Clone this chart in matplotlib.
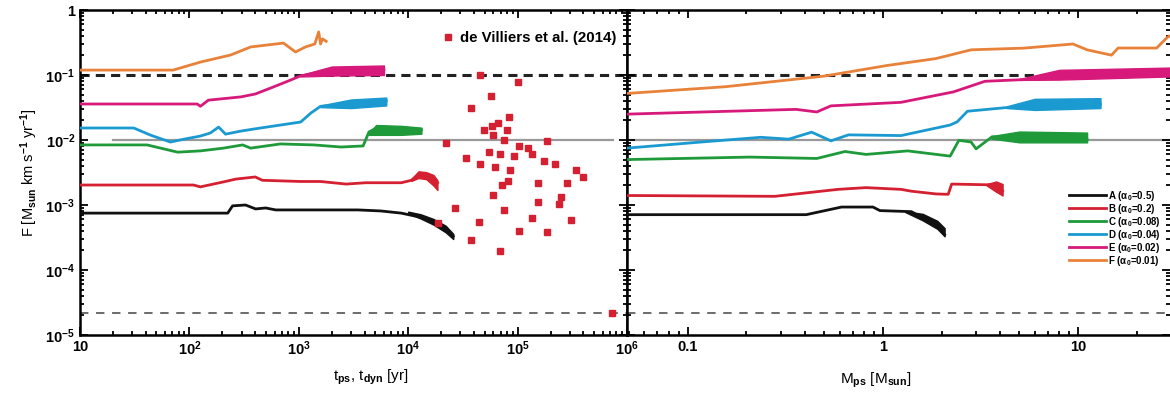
import matplotlib
matplotlib.use('Agg')
import matplotlib.pyplot as plt
from matplotlib.ticker import FixedLocator, FixedFormatter, LogLocator, NullFormatter

plt.rcParams['font.family'] = ['Liberation Sans', 'DejaVu Sans']
plt.rcParams['font.weight'] = 'bold'
plt.rcParams['mathtext.fontset'] = 'custom'
plt.rcParams['mathtext.rm'] = 'Liberation Sans:bold'
plt.rcParams['mathtext.it'] = 'Liberation Sans:bold:italic'
plt.rcParams['mathtext.bf'] = 'Liberation Sans:bold'
plt.rcParams['mathtext.sf'] = 'Liberation Sans:bold'
plt.rcParams['mathtext.default'] = 'rm'

# ---------------- data: left panel (time [yr]) ----------------
tA = [10, 224, 248, 326, 403, 498, 615, 3470, 5600, 8650, 11350, 14600, 18000, 22300, 25800]
FA = [7.5e-4, 7.5e-4, 9.7e-4, 1.0e-3, 8.7e-4, 9.0e-4, 8.4e-4, 8.4e-4, 8.1e-4, 7.5e-4, 6.8e-4, 6.1e-4, 5.1e-4, 4.1e-4, 3.3e-4]
tB = [10, 109, 126, 213, 264, 400, 465, 1040, 1580, 2700, 4100, 8650, 10700, 12400, 14600, 17000, 18500]
FB = [2.03e-3, 2.03e-3, 1.9e-3, 2.3e-3, 2.5e-3, 2.7e-3, 2.4e-3, 2.3e-3, 2.3e-3, 2.1e-3, 2.2e-3, 2.2e-3, 2.4e-3, 3.0e-3, 2.9e-3, 2.6e-3, 2.2e-3]
tC = [10, 41, 78, 126, 205, 307, 363, 680, 1370, 2430, 3870, 4380, 5100, 8650, 13200]
FC = [8.4e-3, 8.4e-3, 6.5e-3, 6.8e-3, 7.5e-3, 8.4e-3, 7.5e-3, 8.7e-3, 8.4e-3, 7.8e-3, 8.1e-3, 0.0133, 0.0152, 0.0143, 0.0143]
tD = [10, 31, 44, 67, 92, 126, 155, 185, 214, 294, 447, 1040, 1290, 1580, 3000, 6300]
FD = [0.0153, 0.0153, 0.0119, 0.0093, 0.0104, 0.0115, 0.0128, 0.0158, 0.0123, 0.0137, 0.0153, 0.0189, 0.026, 0.033, 0.036, 0.040]
tE = [10, 118, 126, 149, 294, 400, 553, 760, 1040, 1580, 3000, 6000]
FE = [0.0358, 0.0358, 0.033, 0.041, 0.046, 0.051, 0.063, 0.078, 0.097, 0.111, 0.12, 0.12]
tF = [10, 71, 126, 238, 363, 724, 933, 1150, 1400, 1520, 1580, 1650, 1780]
FF = [0.119, 0.119, 0.158, 0.203, 0.27, 0.31, 0.226, 0.27, 0.30, 0.46, 0.30, 0.36, 0.33]

# noisy envelopes (x, low, high), left panel
bA_t = [10000, 13000, 17000, 22000, 25800]
bA_lo = [7.6e-4, 6.2e-4, 5.0e-4, 3.8e-4, 3.0e-4]
bA_hi = [7.9e-4, 7.2e-4, 6.1e-4, 4.8e-4, 3.6e-4]
bB_t = [10700, 12400, 14600, 17000, 18500]
bB_lo = [2.35e-3, 2.6e-3, 2.5e-3, 2.0e-3, 1.7e-3]
bB_hi = [2.45e-3, 3.3e-3, 3.2e-3, 2.9e-3, 2.4e-3]
bC_t = [4380, 5100, 8650, 13200]
bC_lo = [1.2e-2, 1.2e-2, 1.2e-2, 1.25e-2]
bC_hi = [1.3e-2, 1.7e-2, 1.65e-2, 1.55e-2]
bD_t = [1580, 3000, 6300]
bD_lo = [0.032, 0.031, 0.034]
bD_hi = [0.034, 0.042, 0.045]
bE_t = [1040, 2000, 6000]
bE_lo = [0.095, 0.098, 0.10]
bE_hi = [0.10, 0.135, 0.14]

# de Villiers et al. (2014) points
dv_t = [45100, 101000, 57700, 37300, 84000, 65600, 58600, 49500, 79300, 59300, 22300, 74400,
        186000, 103000, 124000, 134000, 54500, 68400, 33600, 93300, 45100, 174000, 220000,
        61900, 84500, 340000, 397000, 82200, 71800, 155000, 280000, 59300, 248000, 238000,
        26800, 155000, 74400, 134000, 305000, 44800, 18600, 103000, 186000, 37300, 68400, 728000]
dv_F = [0.100, 0.0789, 0.0475, 0.0308, 0.0223, 0.01845, 0.0164, 0.01426, 0.0141, 0.01194, 0.00908, 0.00989,
        0.00976, 0.00817, 0.00753, 0.0061, 0.00654, 0.00603, 0.00535, 0.00561, 0.00427, 0.00475, 0.00427,
        0.00384, 0.00345, 0.00345, 0.00267, 0.00237, 0.00201, 0.00216, 0.00216, 0.00143, 0.00134, 0.001025,
        0.00089, 0.001124, 0.000828, 0.00063, 0.000582, 0.000553, 0.000523, 0.000402, 0.000388, 0.000286, 0.000194, 2.2e-5]

# ---------------- data: right panel (protostellar mass [Msun]) ----------------
mA = [0.049, 0.405, 0.614, 0.89, 0.966, 1.4, 1.65, 1.95, 2.07]
GA = [7.1e-4, 7.1e-4, 9.3e-4, 9.3e-4, 8.2e-4, 7.9e-4, 6.0e-4, 4.4e-4, 3.5e-4]
mB = [0.049, 0.28, 0.589, 0.82, 1.24, 1.4, 1.87, 2.16, 2.25, 3.62, 4.1]
GB = [1.4e-3, 1.36e-3, 1.74e-3, 1.85e-3, 1.74e-3, 1.63e-3, 1.48e-3, 1.46e-3, 2.1e-3, 2.04e-3, 1.63e-3]
mC = [0.049, 0.209, 0.459, 0.64, 0.82, 1.34, 2.21, 2.45, 2.83, 3.0, 3.62, 11.1]
GC = [5.0e-3, 5.46e-3, 5.2e-3, 6.65e-3, 6.0e-3, 6.8e-3, 5.65e-3, 9.9e-3, 9.3e-3, 7.3e-3, 1.12e-2, 1.01e-2]
mD = [0.049, 0.117, 0.237, 0.33, 0.432, 0.542, 0.667, 1.24, 2.21, 2.4, 2.71, 4.27, 13.0]
GD = [7.5e-3, 9.3e-3, 0.011, 0.0103, 0.0132, 0.0097, 0.012, 0.0117, 0.017, 0.019, 0.0277, 0.0315, 0.0355]
mE = [0.049, 0.359, 0.459, 0.542, 1.24, 2.3, 3.33, 5.26, 29.5]
GE = [0.025, 0.0296, 0.027, 0.0335, 0.038, 0.055, 0.080, 0.085, 0.109]
mF = [0.049, 0.156, 0.499, 1.05, 1.87, 2.83, 5.26, 9.4, 11.1, 14.8, 16.0, 25.2, 28.5, 29.5]
GF = [0.052, 0.066, 0.096, 0.14, 0.179, 0.244, 0.259, 0.30, 0.244, 0.202, 0.26, 0.26, 0.377, 0.40]

rA_m = [1.3, 1.6, 1.9, 2.07]
rA_lo = [7.8e-4, 5.8e-4, 4.3e-4, 3.3e-4]
rA_hi = [8.0e-4, 7.3e-4, 5.7e-4, 4.4e-4]
rB_m = [3.4, 3.8, 4.1]
rB_lo = [2.0e-3, 1.6e-3, 1.4e-3]
rB_hi = [2.1e-3, 2.3e-3, 2.1e-3]
rC_m = [3.6, 5.0, 11.1]
rC_lo = [1.05e-2, 9.2e-3, 9.2e-3]
rC_hi = [1.15e-2, 1.35e-2, 1.3e-2]
rD_m = [4.3, 6.0, 13.0]
rD_lo = [0.031, 0.029, 0.031]
rD_hi = [0.033, 0.043, 0.044]
rE_m = [5.0, 8.0, 29.5]
rE_lo = [0.084, 0.085, 0.095]
rE_hi = [0.087, 0.12, 0.13]

labels = ['A ($\\alpha_0$=0.5)', 'B ($\\alpha_0$=0.2)', 'C ($\\alpha_0$=0.08)',
          'D ($\\alpha_0$=0.04)', 'E ($\\alpha_0$=0.02)', 'F ($\\alpha_0$=0.01)']
colors = ['#111111', '#d42030', '#1f9a3a', '#1a9ad0', '#d6197a', '#e8823a']

ref_upper = 0.1
ref_mid = 0.01
ref_lower = 2.2e-5
ref_mid_left_range = [20, 7.5e5]

ytick_vals = [1e-5, 1e-4, 1e-3, 1e-2, 1e-1, 1]
ytick_labels = ['10$^{-5}$', '10$^{-4}$', '10$^{-3}$', '10$^{-2}$', '10$^{-1}$', '1']
xl_ticks = [10, 1e2, 1e3, 1e4, 1e5, 1e6]
xl_labels = ['10', '10$^2$', '10$^3$', '10$^4$', '10$^5$', '10$^6$']
xr_ticks = [0.1, 1, 10]
xr_labels = ['0.1', '1', '10']

W, H = 1170, 397
fig = plt.figure(figsize=(W / 100, H / 100), dpi=100)
axL = fig.add_axes([80 / W, 1 - 335 / H, 547 / W, 325 / H])
axR = fig.add_axes([627 / W, 1 - 335 / H, 543 / W, 325 / H])

lw = 2.0
for ax in (axL, axR):
    ax.set_xscale('log'); ax.set_yscale('log')
    ax.set_ylim(1e-5, 1)
    ax.axhline(ref_upper, color='#222222', lw=2.2, dashes=(3, 2), zorder=1)
    ax.axhline(ref_lower, color='#444444', lw=1.1, dashes=(5.5, 5), zorder=1)
    for s in ax.spines.values():
        s.set_linewidth(1.8)
    ax.tick_params(which='both', direction='in', top=True, right=True, width=1.3)
    ax.tick_params(which='major', length=6, labelsize=10.5)
    ax.tick_params(which='minor', length=3)
    ax.yaxis.set_major_locator(FixedLocator(ytick_vals))
    ax.yaxis.set_minor_locator(LogLocator(base=10, subs=range(2, 10), numticks=20))
    ax.yaxis.set_minor_formatter(NullFormatter())
    ax.xaxis.set_minor_formatter(NullFormatter())

# left panel
axL.set_xlim(10, 1e6)
axL.plot(ref_mid_left_range, [ref_mid, ref_mid], color='#999999', lw=1.6, zorder=1)
left_series = [(tA, FA), (tB, FB), (tC, FC), (tD, FD), (tE, FE), (tF, FF)]
left_bands = [(bA_t, bA_lo, bA_hi, 0), (bB_t, bB_lo, bB_hi, 1), (bC_t, bC_lo, bC_hi, 2),
              (bD_t, bD_lo, bD_hi, 3), (bE_t, bE_lo, bE_hi, 4)]
for (x, y), c in zip(left_series, colors):
    axL.plot(x, y, color=c, lw=lw, zorder=3)
for x, lo, hi, i in left_bands:
    axL.fill_between(x, lo, hi, color=colors[i], lw=1.0, zorder=3)
axL.plot(dv_t, dv_F, ls='none', marker='s', ms=5, color='#d42030', mec='#d42030', zorder=4,
         label='de Villiers et al. (2014)')
axL.legend(loc='center right', bbox_to_anchor=(0.992, 0.914), frameon=False, fontsize=10.8,
           handlelength=0.6, handletextpad=0.5, borderaxespad=0.0, markerscale=0.9)
axL.xaxis.set_major_locator(FixedLocator(xl_ticks))
axL.xaxis.set_major_formatter(FixedFormatter(xl_labels))
axL.xaxis.set_minor_locator(LogLocator(base=10, subs=range(2, 10), numticks=20))
axL.yaxis.set_major_formatter(FixedFormatter(ytick_labels))
axL.set_xlabel('t$_{\\rm ps}$, t$_{\\rm dyn}$ [yr]', fontsize=11)
axL.xaxis.set_label_coords(0.532, -0.1)
axL.set_ylabel('F [M$_{\\rm sun}$ km s$^{-1}$ yr$^{-1}$]', fontsize=10.5, labelpad=4)

# right panel
axR.set_xlim(0.049, 29.5)
axR.axhline(ref_mid, color='#999999', lw=1.6, zorder=1)
right_series = [(mA, GA), (mB, GB), (mC, GC), (mD, GD), (mE, GE), (mF, GF)]
right_bands = [(rA_m, rA_lo, rA_hi, 0), (rB_m, rB_lo, rB_hi, 1), (rC_m, rC_lo, rC_hi, 2),
               (rD_m, rD_lo, rD_hi, 3), (rE_m, rE_lo, rE_hi, 4)]
for (x, y), c, lab in zip(right_series, colors, labels):
    axR.plot(x, y, color=c, lw=lw, zorder=3, label=lab)
for x, lo, hi, i in right_bands:
    axR.fill_between(x, lo, hi, color=colors[i], lw=1.0, zorder=3)
axR.legend(loc='lower right', bbox_to_anchor=(0.99, 0.195), frameon=False, fontsize=7,
           handlelength=3.8, handletextpad=0.2, labelspacing=-0.1, borderaxespad=0.0)
axR.xaxis.set_major_locator(FixedLocator(xr_ticks))
axR.xaxis.set_major_formatter(FixedFormatter(xr_labels))
axR.xaxis.set_minor_locator(LogLocator(base=10, subs=range(2, 10), numticks=20))
axR.yaxis.set_major_formatter(NullFormatter())
axR.spines['right'].set_visible(False)
axR.set_xlabel('M$_{\\rm ps}$ [M$_{\\rm sun}$]', fontsize=11)
axR.xaxis.set_label_coords(0.459, -0.11)

fig.savefig('out.png', dpi=100)
